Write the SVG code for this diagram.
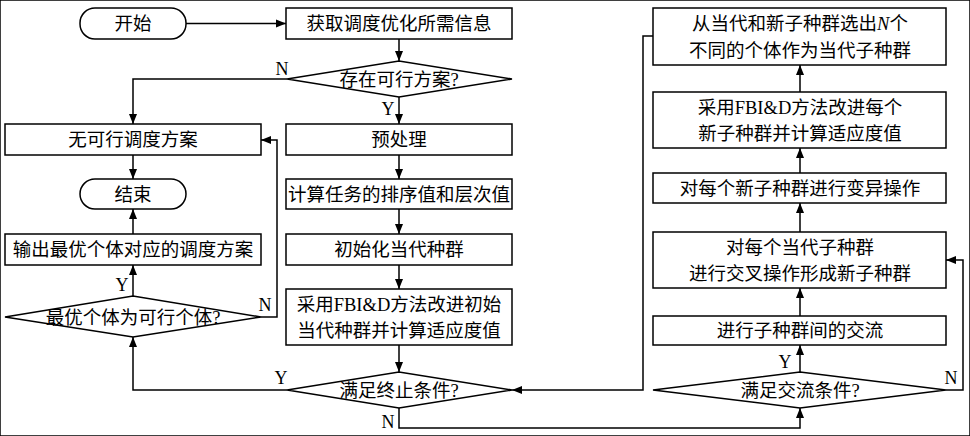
<svg xmlns="http://www.w3.org/2000/svg" width="970" height="436" viewBox="0 0 970 436">
<defs>
<marker id="a" viewBox="0 0 10 10" refX="10" refY="5" markerWidth="10" markerHeight="10" markerUnits="userSpaceOnUse" orient="auto"><path d="M0,1 L10,5 L0,9 z" fill="#000"/></marker>
<style>
rect,polygon{fill:#fff;stroke:#000;stroke-width:1.5}
text{font-family:"Liberation Serif","Noto Sans CJK SC",serif;font-size:18.5px;text-anchor:middle;fill:#000}
.c path{fill:none;stroke:#000;stroke-width:1.5;marker-end:url(#a)}
.l{font-size:18px}
</style>
</defs>
<rect width="970" height="436" fill="#fff" stroke="none"/>
<g class="c">
<path d="M186,23.5 H286"/>
<path d="M399,39 V61"/>
<path d="M287,79 H133 V124"/>
<path d="M399,97 V124"/>
<path d="M133,155 V179"/>
<path d="M399,155 V179"/>
<path d="M399,209 V234"/>
<path d="M399,265 V289"/>
<path d="M399,345 V372"/>
<path d="M133,296 V265"/>
<path d="M133,234 V209"/>
<path d="M261,317 H277 V140 H261"/>
<path d="M287,390 H133 V337"/>
<path d="M399,408 V428 H800 V408"/>
<path d="M800,372 V345"/>
<path d="M800,316 V288"/>
<path d="M800,232 V203"/>
<path d="M800,173 V148"/>
<path d="M800,92 V65"/>
<path d="M946,390 H963 V260 H946"/>
<path d="M653,36 H643 V390 H512"/>
</g>
<g id="start"><rect x="80" y="8" width="106" height="31" rx="15"/><text x="133" y="30">开始</text></g>
<g id="n1"><rect x="286" y="8" width="226" height="31"/><text x="399" y="30">获取调度优化所需信息</text></g>
<g id="d1"><polygon points="287,79 399,61 512,79 399,97"/><text x="399" y="86">存在可行方案?</text></g>
<g id="n2"><rect x="5" y="124" width="256" height="31"/><text x="133" y="146">无可行调度方案</text></g>
<g id="n3"><rect x="286" y="124" width="226" height="31"/><text x="399" y="146">预处理</text></g>
<g id="end"><rect x="80" y="179" width="106" height="30" rx="15"/><text x="133" y="201">结束</text></g>
<g id="n4"><rect x="286" y="179" width="226" height="30"/><text x="399" y="201">计算任务的排序值和层次值</text></g>
<g id="n5"><rect x="5" y="234" width="256" height="31"/><text x="133" y="256">输出最优个体对应的调度方案</text></g>
<g id="n6"><rect x="286" y="234" width="226" height="31"/><text x="399" y="256">初始化当代种群</text></g>
<g id="d2"><polygon points="5,317 133,296 261,317 133,337"/><text x="133" y="324">最优个体为可行个体?</text></g>
<g id="n7"><rect x="286" y="289" width="226" height="56"/><text x="399" y="311">采用FBI&amp;D方法改进初始</text><text x="399" y="337">当代种群并计算适应度值</text></g>
<g id="d3"><polygon points="287,390 399,372 512,390 399,408"/><text x="399" y="397">满足终止条件?</text></g>
<g id="r1"><rect x="653" y="8" width="293" height="57"/><text x="800" y="30">从当代和新子种群选出<tspan font-style="italic">N</tspan>个</text><text x="800" y="57">不同的个体作为当代子种群</text></g>
<g id="r2"><rect x="653" y="92" width="293" height="56"/><text x="800" y="114">采用FBI&amp;D方法改进每个</text><text x="800" y="140">新子种群并计算适应度值</text></g>
<g id="r3"><rect x="653" y="173" width="293" height="30"/><text x="800" y="195">对每个新子种群进行变异操作</text></g>
<g id="r4"><rect x="653" y="232" width="293" height="56"/><text x="800" y="254">对每个当代子种群</text><text x="800" y="280">进行交叉操作形成新子种群</text></g>
<g id="r5"><rect x="653" y="316" width="293" height="29"/><text x="800" y="337">进行子种群间的交流</text></g>
<g id="d4"><polygon points="653,390 800,372 946,390 800,408"/><text x="800" y="397">满足交流条件?</text></g>
<g id="labels">
<text class="l" x="282" y="75">N</text>
<text class="l" x="388" y="115">Y</text>
<text class="l" x="265" y="311">N</text>
<text class="l" x="122" y="291">Y</text>
<text class="l" x="281" y="384">Y</text>
<text class="l" x="388" y="428">N</text>
<text class="l" x="785" y="368">Y</text>
<text class="l" x="951" y="384">N</text>
</g>
</svg>
